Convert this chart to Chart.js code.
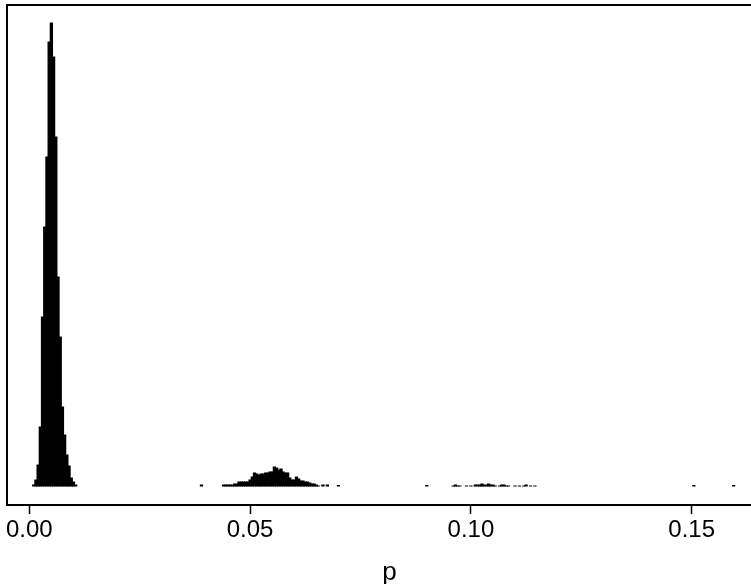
<!DOCTYPE html>
<html>
<head>
<meta charset="utf-8">
<script src="https://cdn.jsdelivr.net/npm/chart.js@4.4.0/dist/chart.umd.min.js"></script>
<style>
  html, body { margin: 0; padding: 0; background: #fff; overflow: hidden; }
  #wrap { width: 772px; height: 584px; position: relative; }
</style>
</head>
<body>
<div id="wrap"><canvas id="histChart"></canvas></div>
<script>
// histogram of p, bins 0.0005 wide (values are bin centres)
const binWidth = 0.0005;

// main spike near 0
const spikeStart = 0.0010;
const spikeCounts = [2, 7, 22, 60, 170, 260, 330, 445, 464, 430, 350, 210, 150, 80, 52, 32, 21, 9, 5, 2];

// small hump around 0.055
const humpStart = 0.0440;
const humpCounts = [2, 2, 2, 2, 2, 3, 3, 5, 5, 5, 5, 5, 7, 10, 14, 13, 12, 13, 13, 14, 14, 15,
                    15, 20, 19, 17, 18, 15, 14, 14, 9, 7, 7, 10, 8, 6, 6, 5, 5, 4, 3, 3, 2, 1];

// scattered single bins
const strayP = [0.0390, 0.0665, 0.0675, 0.0700, 0.0900,
                0.0960, 0.0965, 0.0970, 0.0975, 0.0990, 0.1000,
                0.1010, 0.1015, 0.1020, 0.1025, 0.1030, 0.1035, 0.1040, 0.1045, 0.1050, 0.1055,
                0.1065, 0.1070, 0.1075, 0.1080, 0.1085, 0.1100, 0.1110,
                0.1120, 0.1125, 0.1135, 0.1145, 0.1505, 0.1595];
const strayCounts = [2, 2, 2, 1.5, 1.5,
                     1, 2, 1, 1, 1, 1,
                     2, 2, 2, 3, 2, 2, 3, 2, 2, 1,
                     1, 2, 2, 1, 1, 1, 1,
                     1, 2, 1, 1, 1.5, 1.5];

const tickValues = [0, 0.05, 0.10, 0.15];
const xMin = -0.00505, xMax = 0.16819;
const yMin = -18.5, yMax = 481.5;

const punti = [];
spikeCounts.forEach((c, i) => punti.push({ x: spikeStart + i * binWidth, y: c }));
humpCounts.forEach((c, i) => punti.push({ x: humpStart + i * binWidth, y: c }));
strayP.forEach((p, i) => punti.push({ x: p, y: strayCounts[i] }));

Chart.defaults.font.family = "'Liberation Sans', Arial, sans-serif";
Chart.defaults.color = '#000';

// frame around the plot region
const moldura = {
  id: 'moldura',
  afterDraw(chart) {
    const { ctx, chartArea: a } = chart;
    ctx.save();
    ctx.strokeStyle = '#000';
    ctx.lineWidth = 2;
    ctx.strokeRect(a.left, a.top, a.right - a.left, a.bottom - a.top);
    ctx.restore();
  }
};

new Chart(document.getElementById('histChart').getContext('2d'), {
  type: 'bar',
  data: {
    datasets: [{
      data: punti,
      backgroundColor: '#000',
      borderWidth: 0,
      barPercentage: 1.5,
      categoryPercentage: 1
    }]
  },
  options: {
    responsive: true,
    maintainAspectRatio: false,
    animation: false,
    layout: { padding: { left: 7, top: 5, right: 0, bottom: 0 } },
    plugins: { legend: { display: false }, tooltip: { enabled: false } },
    scales: {
      x: {
        type: 'linear',
        min: xMin,
        max: xMax,
        offset: false,
        afterBuildTicks: s => { s.ticks = tickValues.map(v => ({ value: v })); },
        afterFit: s => { s.height = 79; },
        grid: { offset: false, drawOnChartArea: false, drawTicks: true, tickLength: 9, tickColor: '#000', tickWidth: 1.5 },
        border: { display: false },
        ticks: {
          padding: 2,
          maxRotation: 0,
          autoSkip: false,
          font: { size: 24 },
          callback: v => v.toFixed(2)
        },
        title: { display: true, text: 'p', font: { size: 26, lineHeight: 1 }, padding: { top: 0, bottom: -2 } }
      },
      y: {
        display: false,
        min: yMin,
        max: yMax
      }
    }
  },
  plugins: [moldura]
});
</script>
</body>
</html>
